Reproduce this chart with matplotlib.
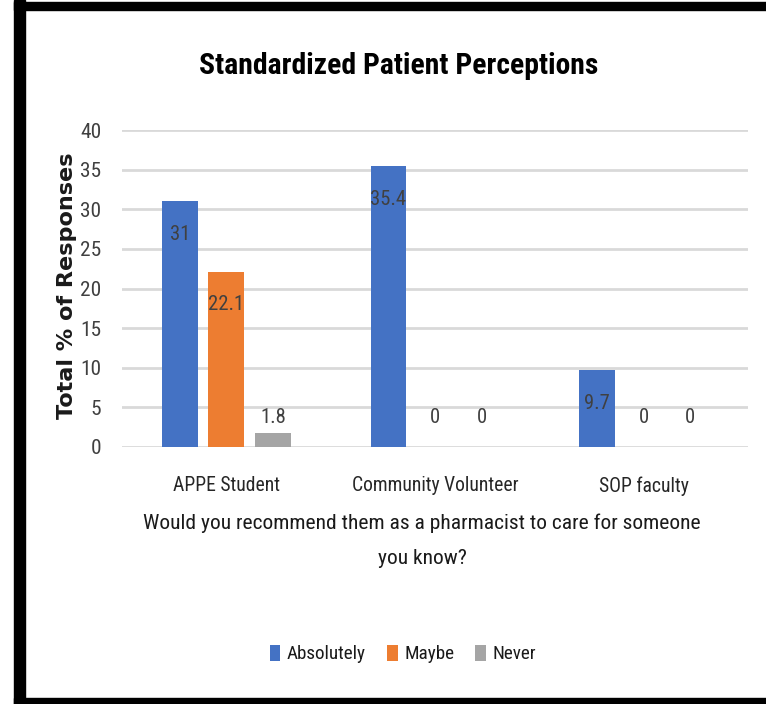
import matplotlib
matplotlib.use("Agg")
import matplotlib.pyplot as plt
from matplotlib import font_manager
from matplotlib.patches import Rectangle
import numpy as np

categories = ["APPE Student", "Community Volunteer", "SOP faculty"]
series_names = ["Absolutely", "Maybe", "Never"]
absolutely = [31, 35.4, 9.7]
maybe = [22.1, 0, 0]
never = [1.8, 0, 0]
y_ticks = [0, 5, 10, 15, 20, 25, 30, 35, 40]
title = "Standardized Patient Perceptions"
ylabel = "Total % of Responses"
xlabel_lines = ["Would you recommend them as a pharmacist to care for someone",
                "you know?"]

colors = ["#4472C4", "#ED7D31", "#A5A5A5"]

# pick a narrow font if one is installed
installed = {f.name for f in font_manager.fontManager.ttflist}
main_font = "Lato"
for cand in ["Liberation Sans Narrow", "Roboto Condensed", "DejaVu Sans Condensed",
             "Open Sans Condensed", "Noto Sans Condensed", "Lato"]:
    if cand in installed:
        main_font = cand
        break
plt.rcParams["font.family"] = [main_font, "DejaVu Sans"]

fig = plt.figure(figsize=(7.66, 7.04), dpi=100)
W, H = 766, 704
renderer = fig.canvas.get_renderer()


def fit_size(s, target_px, **kw):
    t = fig.text(0, 0, s, fontsize=10, **kw)
    w = t.get_window_extent(renderer).width
    t.remove()
    return 10 * target_px / w


ax = fig.add_axes([122 / W, 1 - 447 / H, (748 - 122) / W, (447 - 130) / H])

x = np.arange(len(categories))
width = 0.172
step = 0.223
lab_size = fit_size("35.4", 36)
all_series = [absolutely, maybe, never]
for i, (name, vals) in enumerate(zip(series_names, all_series)):
    pos = x + (i - 1) * step
    ax.bar(pos, vals, width, color=colors[i], label=name, zorder=3)
    for px, v in zip(pos, vals):
        if v >= 5:
            off = -33
        elif v == 0:
            off = 29
        else:
            off = 15
        ax.annotate("%g" % v, (px, v), xytext=(0, off), textcoords="offset pixels",
                    ha="center", va="center", fontsize=lab_size, color="#404040",
                    zorder=4)

ax.set_xlim(-0.5, 2.5)
ax.set_ylim(0, 40)
ax.set_yticks(y_ticks)
ax.set_xticks(x)
ax.set_xticklabels(categories)
ax.grid(axis="y", color="#D9D9D9", linewidth=2, zorder=0)
for s in ax.spines.values():
    s.set_visible(False)
ax.tick_params(axis="y", length=0, labelsize=fit_size("40", 21), labelcolor="#404040", pad=15)
ax.tick_params(axis="x", length=0, labelsize=fit_size("Community Volunteer", 166),
               labelcolor="#262626", pad=21)

fig.text(67 / W, 1 - 286 / H, ylabel, rotation=90,
         ha="center", va="center", fontweight="bold", family="DejaVu Sans",
         fontsize=fit_size(ylabel, 268, fontweight="bold", family="DejaVu Sans"),
         color="#1a1a1a")
fig.text(399 / W, 1 - 66 / H, title, ha="center", va="center",
         fontsize=fit_size(title, 398, fontweight="bold"), fontweight="bold",
         color="black")
xl_size = fit_size(xlabel_lines[0], 555)
fig.text(422 / W, 1 - 523 / H, xlabel_lines[0], ha="center", va="center",
         fontsize=xl_size, color="#1a1a1a")
fig.text(422 / W, 1 - 558 / H, xlabel_lines[1], ha="center", va="center",
         fontsize=xl_size, color="#1a1a1a")

fig.legend(loc="center", bbox_to_anchor=(403 / W, 1 - 654 / H), ncol=3,
           frameon=False, fontsize=fit_size("Absolutely", 79),
           handlelength=0.55, handleheight=0.9,
           handletextpad=0.35, columnspacing=1.1, labelcolor="#1a1a1a")

# black frame around the picture
fig.patches.append(Rectangle((14 / W, 0), 11 / W, 1, transform=fig.transFigure,
                             color="black", zorder=10))
fig.patches.append(Rectangle((14 / W, 1 - 10 / H), 1, 8 / H, transform=fig.transFigure,
                             color="black", zorder=10))
fig.patches.append(Rectangle((14 / W, 0), 1, 6 / H, transform=fig.transFigure,
                             color="black", zorder=10))

fig.savefig("out.png", dpi=100)
